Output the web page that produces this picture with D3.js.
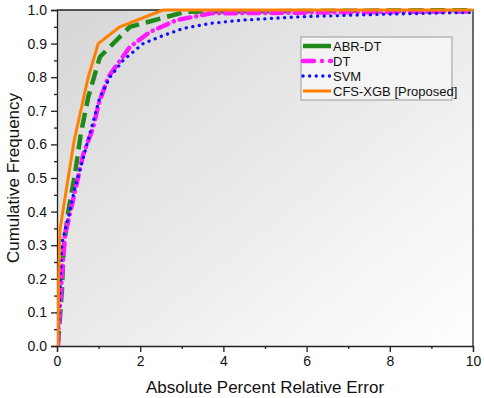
<!DOCTYPE html>
<html>
<head>
<meta charset="utf-8">
<script src="https://cdn.jsdelivr.net/npm/d3@7"></script>
<style>
  body { margin: 0; background: #fff; }
  text { font-family: Arial, "Liberation Sans", sans-serif; fill: #111; }
</style>
</head>
<body>
<div id="chart"></div>
<script>
// series data: [absolute percent relative error, cumulative frequency]
var abrDT = [[0.02,0],[0.08,0.1],[0.12,0.17],[0.16,0.29],[0.27,0.4],[0.43,0.51],[0.57,0.63],[0.75,0.74],[1.03,0.86],[1.75,0.95],[3.1,0.995],[10,1.0]];
var dt = [[0.02,0],[0.05,0.08],[0.12,0.21],[0.19,0.33],[0.36,0.42],[0.63,0.57],[0.87,0.65],[1.0,0.72],[1.23,0.8],[1.75,0.89],[2.24,0.935],[2.88,0.97],[3.7,0.99],[10,0.996]];
var svm = [[0.02,0],[0.05,0.1],[0.1,0.25],[0.12,0.31],[0.27,0.38],[0.43,0.47],[0.72,0.6],[1.03,0.74],[1.27,0.8],[1.59,0.85],[2.07,0.9],[2.47,0.92],[3.03,0.945],[3.68,0.96],[4.47,0.97],[5.84,0.98],[8,0.988],[10,0.993]];
var cfsXGB = [[0.02,0],[0.04,0.2],[0.07,0.345],[0.41,0.61],[0.75,0.8],[0.99,0.9],[1.51,0.95],[2.55,1.0],[10,1.0]];

var seriesNames = ["ABR-DT","DT","SVM","CFS-XGB [Proposed]"];
var xTicks = [0,2,4,6,8,10];
var yTicks = [0,0.1,0.2,0.3,0.4,0.5,0.6,0.7,0.8,0.9,1.0];

var width = 484, height = 398;
var margin = {left:57, right:11, top:10, bottom:52};

var svg = d3.select("#chart").append("svg")
  .attr("width", width).attr("height", height);

var x = d3.scaleLinear().domain([0,10]).range([margin.left, width-margin.right]);
var y = d3.scaleLinear().domain([0,1]).range([height-margin.bottom, margin.top]);

// gradient background
var defs = svg.append("defs");
var grad = defs.append("linearGradient").attr("id","bg")
  .attr("x1","0").attr("y1","0").attr("x2","1").attr("y2","1");
grad.append("stop").attr("offset","0").attr("stop-color","#d6d6d6");
grad.append("stop").attr("offset","1").attr("stop-color","#ffffff");

svg.append("rect")
  .attr("x", x(0)).attr("y", y(1))
  .attr("width", x(10)-x(0)).attr("height", y(0)-y(1))
  .attr("fill","url(#bg)");

// axes
svg.append("g").attr("transform","translate(0,"+y(0)+")")
  .call(d3.axisBottom(x).tickValues(xTicks).tickSize(6).tickPadding(4).tickFormat(d3.format("d")));
svg.append("g").attr("transform","translate(0,"+y(0)+")")
  .call(d3.axisBottom(x).tickValues([1,3,5,7,9]).tickSize(3).tickFormat(""))
  .select(".domain").remove();

svg.append("g").attr("transform","translate("+x(0)+",0)")
  .call(d3.axisLeft(y).tickValues(yTicks).tickSize(6).tickPadding(4).tickFormat(d3.format(".1f")));
svg.append("g").attr("transform","translate("+x(0)+",0)")
  .call(d3.axisLeft(y).tickValues(d3.range(0.05,1,0.1)).tickSize(3).tickFormat(""))
  .select(".domain").remove();

svg.selectAll(".tick text").style("font-size","14px").attr("fill","#111");
svg.selectAll(".domain, .tick line").attr("stroke","#222").attr("stroke-width",1.3);

// top and right frame
svg.append("path")
  .attr("d","M"+x(0)+","+y(1)+"H"+x(10)+"V"+y(0))
  .attr("fill","none").attr("stroke","#222").attr("stroke-width",1.3);

// titles
svg.append("text").attr("x",(x(0)+x(10))/2).attr("y",393)
  .attr("text-anchor","middle").style("font-size","17px")
  .text("Absolute Percent Relative Error");
svg.append("text").attr("transform","translate(19,"+((y(0)+y(1))/2)+") rotate(-90)")
  .attr("text-anchor","middle").style("font-size","17px")
  .text("Cumulative Frequency");

// lines
var line = d3.line().x(function(d){return x(d[0]);}).y(function(d){return y(d[1]);});
var styles = [
  {data:abrDT, color:"#1e8a1e", w:4.5, dash:"15,7", cap:"butt"},
  {data:dt, color:"#ff1aff", w:4.5, dash:"11,6,0.1,6", cap:"round"},
  {data:svm, color:"#1010ff", w:3.3, dash:"0.1,6.5", cap:"round"},
  {data:cfsXGB, color:"#ff8000", w:3, dash:null, cap:"butt"}
];
var clip = defs.append("clipPath").attr("id","clip");
clip.append("rect").attr("x",x(0)).attr("y",y(1)-2).attr("width",x(10)-x(0)+2).attr("height",y(0)-y(1)+2);

styles.forEach(function(s){
  svg.append("path").datum(s.data)
    .attr("clip-path","url(#clip)")
    .attr("d", line)
    .attr("fill","none")
    .attr("stroke", s.color)
    .attr("stroke-width", s.w)
    .attr("stroke-linecap", s.cap)
    .attr("stroke-linejoin","round")
    .attr("stroke-dasharray", s.dash);
});

// legend
var lg = svg.append("g").attr("transform","translate(301,37)");
lg.append("rect").attr("width",151).attr("height",63)
  .attr("fill","#f4f4f4").attr("stroke","#999").attr("stroke-width",1);
styles.forEach(function(s,i){
  var yy = 9 + i*15;
  lg.append("line").attr("x1",2).attr("x2",30).attr("y1",yy).attr("y2",yy)
    .attr("stroke",s.color).attr("stroke-width",s.w)
    .attr("stroke-linecap",s.cap)
    .attr("stroke-dasharray", i==0 ? null : (i==1 ? "11,8,0.1,8" : s.dash));
  lg.append("text").attr("x",32).attr("y",yy+5)
    .style("font-size","13px").text(seriesNames[i]);
});
</script>
</body>
</html>
